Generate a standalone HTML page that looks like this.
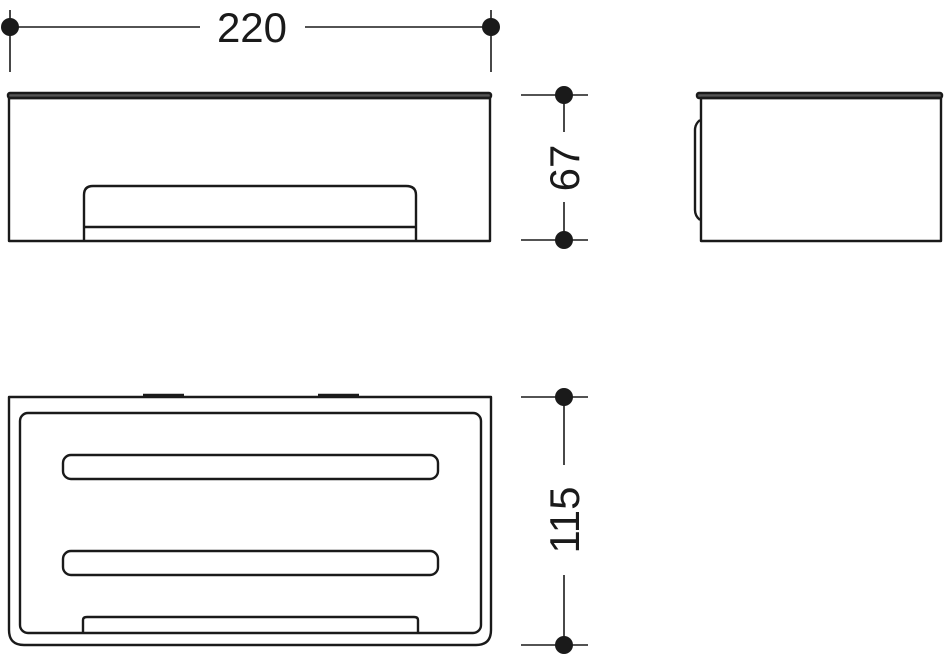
<!DOCTYPE html>
<html><head><style>html,body{margin:0;padding:0;background:#fff}svg{display:block}</style></head>
<body>
<svg width="945" height="654" viewBox="0 0 945 654" xmlns="http://www.w3.org/2000/svg">
<g stroke="#1a1a1a" fill="none" stroke-width="1.6">
 <!-- 220 dim -->
 <line x1="10" y1="10" x2="10" y2="72"/><line x1="491" y1="10" x2="491" y2="72"/>
 <line x1="10" y1="27" x2="200" y2="27"/><line x1="305" y1="27" x2="491" y2="27"/>
 <!-- 67 dim -->
 <line x1="521" y1="95" x2="588" y2="95"/><line x1="521" y1="240" x2="588" y2="240"/>
 <line x1="564" y1="95" x2="564" y2="132"/><line x1="564" y1="202" x2="564" y2="240"/>
 <!-- 115 dim -->
 <line x1="521" y1="397" x2="588" y2="397"/><line x1="521" y1="645" x2="588" y2="645"/>
 <line x1="564" y1="397" x2="564" y2="465"/><line x1="564" y1="575" x2="564" y2="645"/>
</g>
<g fill="#1a1a1a">
 <circle cx="10" cy="27" r="9"/><circle cx="491" cy="27" r="9"/>
 <circle cx="564" cy="95" r="9"/><circle cx="564" cy="240" r="9"/>
 <circle cx="564" cy="397" r="9"/><circle cx="564" cy="645" r="9"/>
</g>
<g font-family="Liberation Sans, sans-serif" font-size="42" fill="#1a1a1a" text-anchor="middle">
 <text x="252" y="42">220</text>
 <text transform="translate(579,168) rotate(-90)">67</text>
 <text transform="translate(579,520) rotate(-90)">115</text>
</g>
<g stroke="#1a1a1a" fill="none" stroke-width="2.4" stroke-linejoin="round">
 <!-- front view -->
 <rect x="8" y="93" width="483" height="5" rx="2" fill="#555"/>
 <rect x="9" y="98" width="481" height="143"/>
 <path d="M84 241 V195 Q84 186 93 186 H406 Q416 186 416 195 V241"/>
 <line x1="84" y1="227" x2="416" y2="227"/>
 <!-- side view -->
 <rect x="697" y="93" width="245" height="5" rx="2" fill="#555"/>
 <rect x="701" y="98" width="240" height="143"/>
 <path d="M700 120 Q695 124 695 130 V210 Q695 216 700 220"/>
 <!-- top view -->
 <path d="M9 397 H491 V630 Q491 645 476 645 H24 Q9 645 9 630 Z"/>
 <rect x="20" y="413" width="461" height="220" rx="8"/>
 <rect x="63" y="455" width="375" height="24" rx="8"/>
 <rect x="63" y="551" width="375" height="24" rx="8"/>
 <path d="M83 632 V620 Q83 617 87 617 H414 Q418 617 418 620 V632"/>
 <line x1="143" y1="395" x2="184" y2="395"/><line x1="318" y1="395" x2="359" y2="395"/>
</g>
</svg>
</body></html>
